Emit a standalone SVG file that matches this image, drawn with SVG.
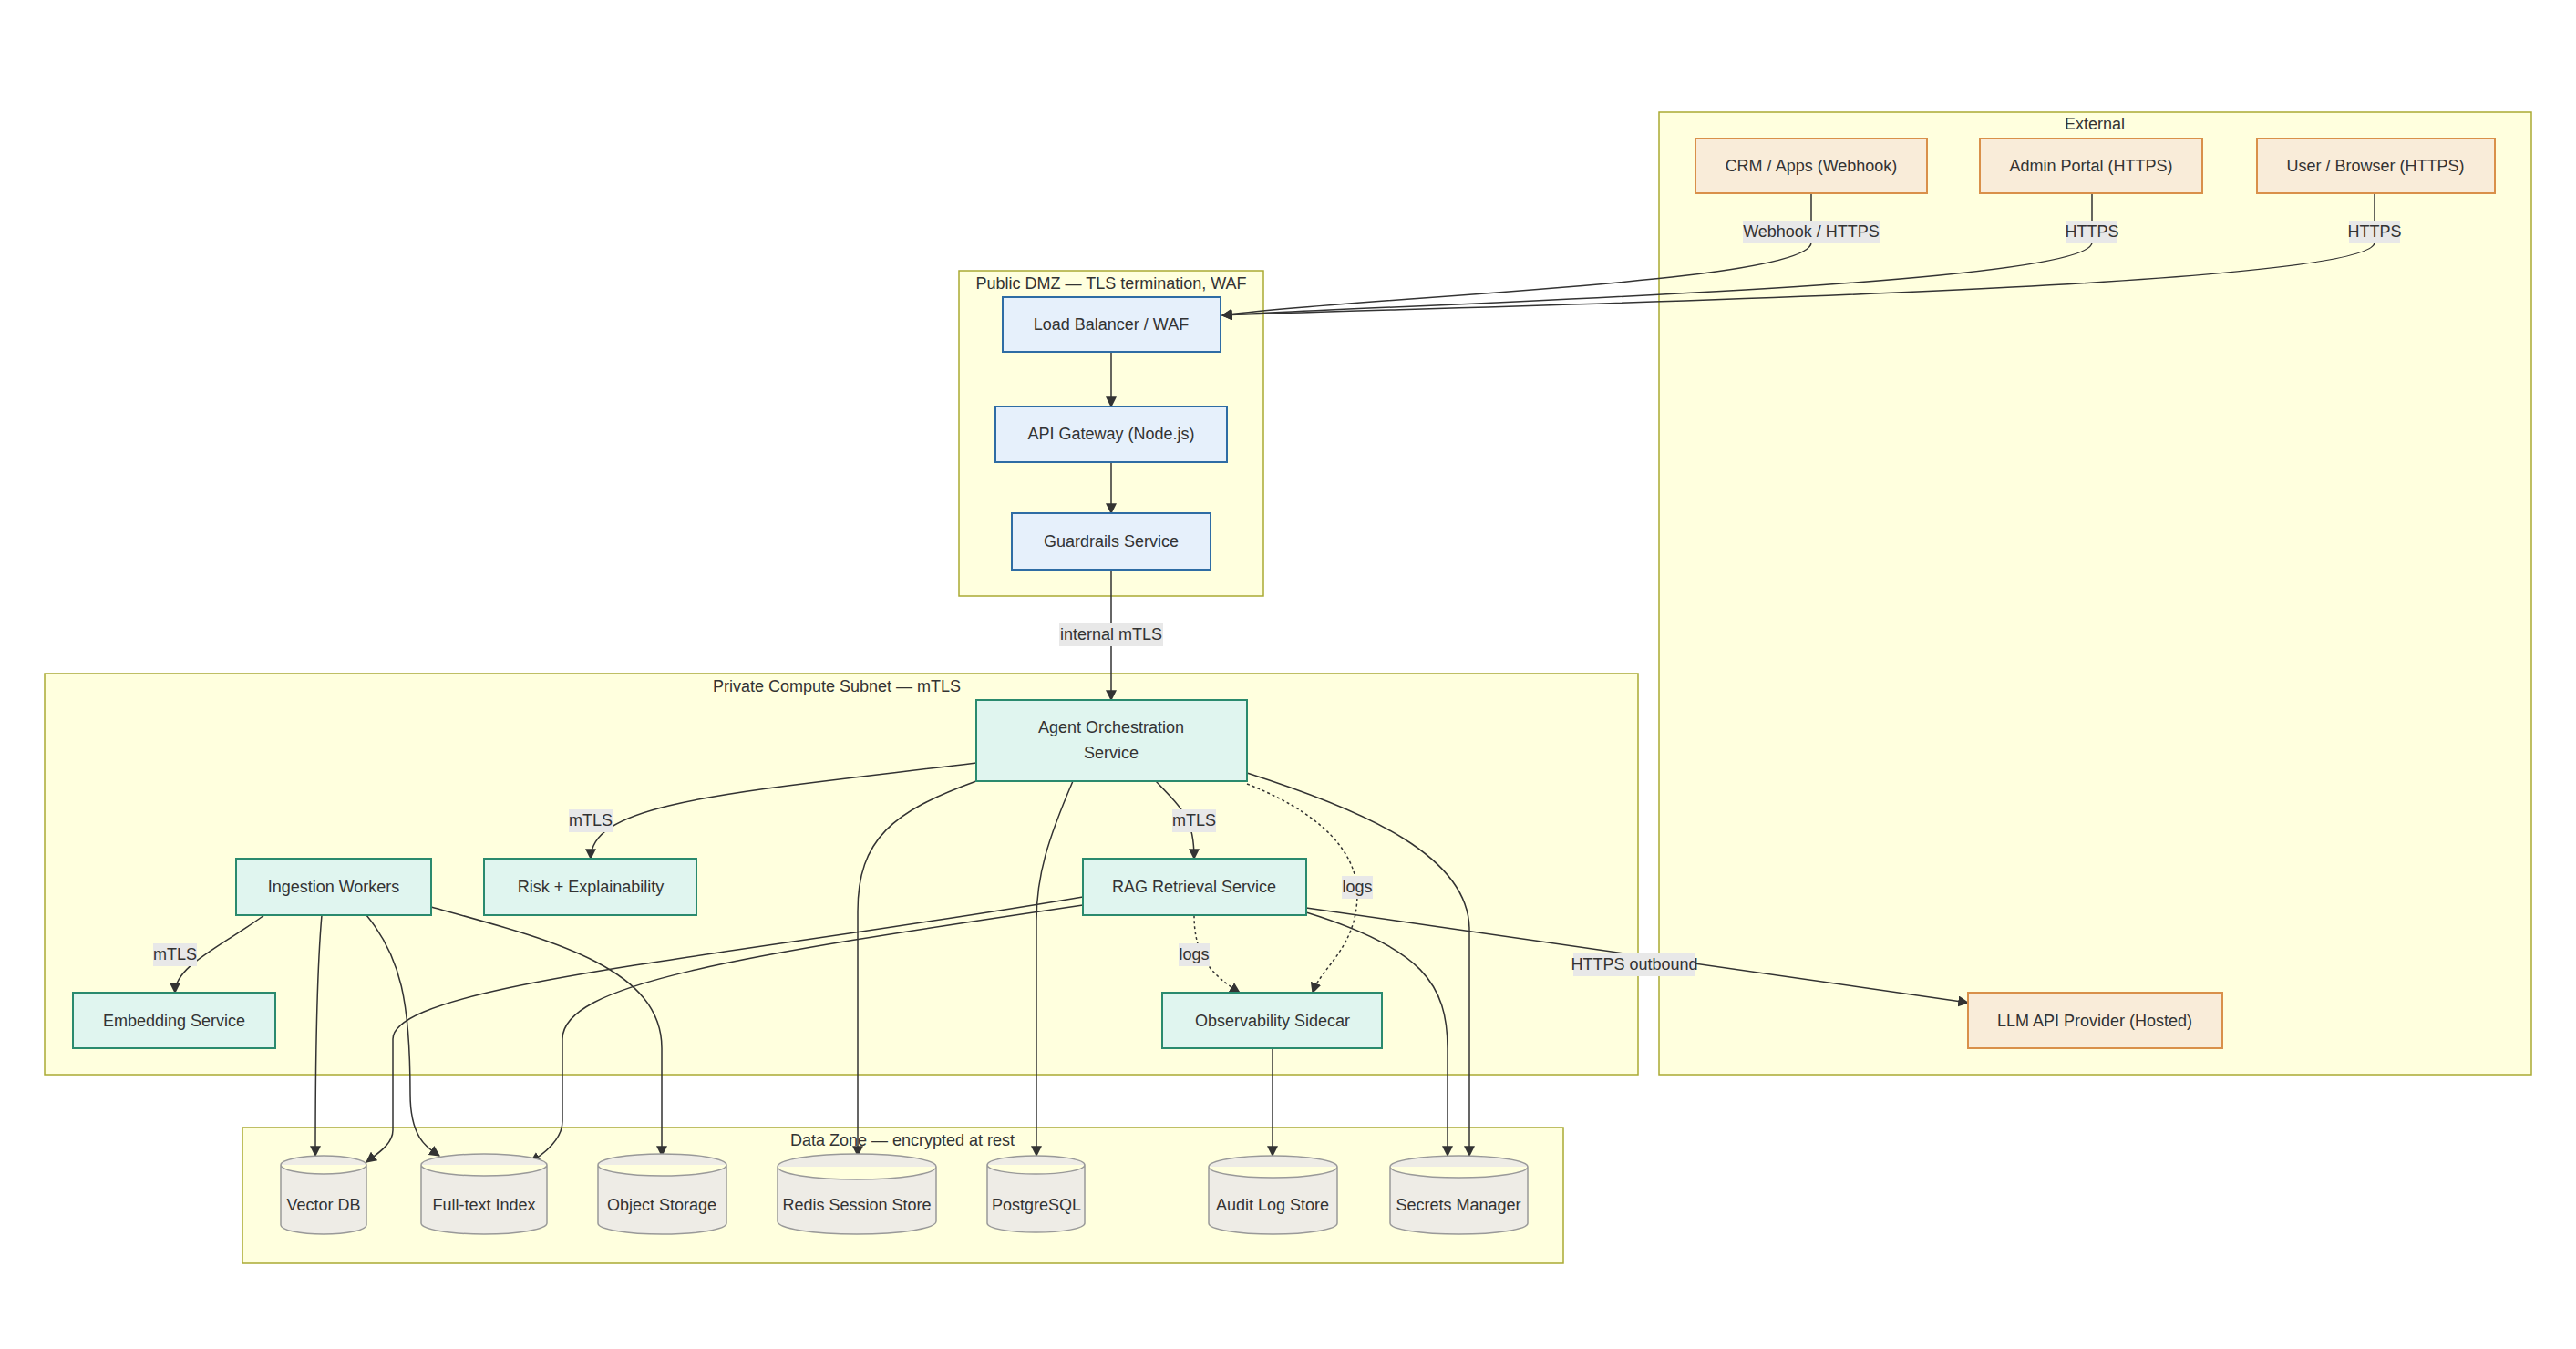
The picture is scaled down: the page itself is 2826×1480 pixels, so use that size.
<svg xmlns="http://www.w3.org/2000/svg" width="2826" height="1480" viewBox="0 0 2826 1480">
<style>
text{font-family:"Liberation Sans",Arial,sans-serif;font-size:18px;fill:#333;text-anchor:middle;dominant-baseline:central}
.cl{fill:#ffffde;stroke:#aaaa33;stroke-width:1.5}
.b{fill:#e6f0fb;stroke:#2e6ca4;stroke-width:2}
.g{fill:#e0f5ef;stroke:#2a8a6e;stroke-width:2}
.o{fill:#f9ecd9;stroke:#d9904a;stroke-width:2}
.cy{fill:#eeece6;stroke:#999;stroke-width:1.5}
.e{fill:none;stroke:#333;stroke-width:1.5;marker-end:url(#a)}
.d{stroke-dasharray:3 3}
.lb{fill:#e8e8e8}
</style>
<defs>
<marker id="a" viewBox="0 0 10 10" refX="9" refY="5" markerWidth="8" markerHeight="8" orient="auto"><path d="M0,0L10,5L0,10z" fill="#333"/></marker>
</defs>
<rect width="2826" height="1480" fill="#fff"/>
<g id="clusters">
<rect class="cl" x="1820" y="123" width="957" height="1056"/><text x="2298" y="136">External</text>
<rect class="cl" x="1052" y="297" width="334" height="357"/><text x="1219" y="311">Public DMZ — TLS termination, WAF</text>
<rect class="cl" x="49" y="739" width="1748" height="440"/><text x="918" y="753">Private Compute Subnet — mTLS</text>
<rect class="cl" x="266" y="1237" width="1449" height="149"/><text x="990" y="1251">Data Zone — encrypted at rest</text>
</g>
<g id="connectors">
<path class="e" d="M1987,212 L1987,266 C1987,310 1500,325 1341,346"/>
<path class="e" d="M2295,212 L2295,266 C2295,315 1500,335 1341,346"/>
<path class="e" d="M2605,212 L2605,266 C2605,320 1500,338 1341,346"/>
<path class="e" d="M1219,386 L1219,446"/>
<path class="e" d="M1219,507 L1219,563"/>
<path class="e" d="M1219,625 L1219,768"/>
<path class="e" d="M1071,837 C800,870 648,880 648,942"/>
<path class="e" d="M1268,857 C1300,890 1310,900 1310,942"/>
<path class="e d" d="M1368,860 C1470,900 1489,950 1489,980 C1489,1040 1450,1060 1440,1089"/>
<path class="e d" d="M1310,1004 C1310,1050 1330,1070 1360,1089"/>
<path class="e" d="M1071,857 C980,890 941,920 941,1000 L941,1268"/>
<path class="e" d="M1177,857 C1150,920 1137,960 1137,1010 L1137,1268"/>
<path class="e" d="M1368,848 C1500,890 1612,940 1612,1020 L1612,1268"/>
<path class="e" d="M290,1004 C240,1040 192,1060 192,1089"/>
<path class="e" d="M353,1004 C348,1060 346,1150 346,1268"/>
<path class="e" d="M402,1004 C440,1050 450,1100 450,1200 C450,1250 470,1260 482,1268"/>
<path class="e" d="M473,995 C600,1030 726,1060 726,1150 L726,1268"/>
<path class="e" d="M1188,984 C800,1050 431,1080 431,1140 L431,1240 C431,1255 415,1265 402,1275"/>
<path class="e" d="M1188,993 C800,1050 617,1080 617,1140 L617,1230 C617,1250 598,1265 582,1275"/>
<path class="e" d="M1433,1001 C1560,1040 1588,1080 1588,1150 L1588,1268"/>
<path class="e" d="M1433,996 L2159,1100"/>
<path class="e" d="M1396,1150 L1396,1268"/>
<g id="edge-labels">
<rect class="lb" x="1912" y="242" width="150" height="25"/><text x="1987" y="254">Webhook / HTTPS</text>
<rect class="lb" x="2267" y="242" width="56" height="25"/><text x="2295" y="254">HTTPS</text>
<rect class="lb" x="2577" y="242" width="56" height="25"/><text x="2605" y="254">HTTPS</text>
<rect class="lb" x="1162" y="684" width="114" height="25"/><text x="1219" y="696">internal mTLS</text>
<rect class="lb" x="624" y="888" width="48" height="25"/><text x="648" y="900">mTLS</text>
<rect class="lb" x="1286" y="888" width="48" height="25"/><text x="1310" y="900">mTLS</text>
<rect class="lb" x="1472" y="961" width="34" height="25"/><text x="1489" y="973">logs</text>
<rect class="lb" x="1293" y="1035" width="34" height="25"/><text x="1310" y="1047">logs</text>
<rect class="lb" x="168" y="1035" width="48" height="25"/><text x="192" y="1047">mTLS</text>
<rect class="lb" x="1726" y="1046" width="134" height="25"/><text x="1793" y="1058">HTTPS outbound</text>
</g>
</g>
<g id="crm"><rect class="o" x="1860" y="152" width="254" height="60"/><text x="1987" y="182">CRM / Apps (Webhook)</text></g>
<g id="admin"><rect class="o" x="2172" y="152" width="244" height="60"/><text x="2294" y="182">Admin Portal (HTTPS)</text></g>
<g id="user"><rect class="o" x="2476" y="152" width="261" height="60"/><text x="2606" y="182">User / Browser (HTTPS)</text></g>
<g id="lb"><rect class="b" x="1100" y="326" width="239" height="60"/><text x="1219" y="356">Load Balancer / WAF</text></g>
<g id="api"><rect class="b" x="1092" y="446" width="254" height="61"/><text x="1219" y="476">API Gateway (Node.js)</text></g>
<g id="guard"><rect class="b" x="1110" y="563" width="218" height="62"/><text x="1219" y="594">Guardrails Service</text></g>
<g id="agent"><rect class="g" x="1071" y="768" width="297" height="89"/><text x="1219" y="798">Agent Orchestration</text><text x="1219" y="826">Service</text></g>
<g id="ingest"><rect class="g" x="259" y="942" width="214" height="62"/><text x="366" y="973">Ingestion Workers</text></g>
<g id="risk"><rect class="g" x="531" y="942" width="233" height="62"/><text x="648" y="973">Risk + Explainability</text></g>
<g id="rag"><rect class="g" x="1188" y="942" width="245" height="62"/><text x="1310" y="973">RAG Retrieval Service</text></g>
<g id="embed"><rect class="g" x="80" y="1089" width="222" height="61"/><text x="191" y="1120">Embedding Service</text></g>
<g id="obs"><rect class="g" x="1275" y="1089" width="241" height="61"/><text x="1396" y="1120">Observability Sidecar</text></g>
<g id="llm"><rect class="o" x="2159" y="1089" width="279" height="61"/><text x="2298" y="1120">LLM API Provider (Hosted)</text></g>
<g id="vector"><path class="cy" d="M308,1278 a47,10 0 0 1 94,0 v66 a47,10 0 0 1 -94,0z M308,1278 a47,10 0 0 0 94,0"/><text x="355" y="1322">Vector DB</text></g>
<g id="fulltext"><path class="cy" d="M462,1278 a69,12 0 0 1 138,0 v64 a69,12 0 0 1 -138,0z M462,1278 a69,12 0 0 0 138,0"/><text x="531" y="1322">Full-text Index</text></g>
<g id="object"><path class="cy" d="M656,1278 a70,12 0 0 1 141,0 v64 a70,12 0 0 1 -141,0z M656,1278 a70,12 0 0 0 141,0"/><text x="726" y="1322">Object Storage</text></g>
<g id="redis"><path class="cy" d="M853,1280 a87,14 0 0 1 174,0 v60 a87,14 0 0 1 -174,0z M853,1280 a87,14 0 0 0 174,0"/><text x="940" y="1322">Redis Session Store</text></g>
<g id="postgres"><path class="cy" d="M1083,1278 a53,10 0 0 1 107,0 v64 a53,10 0 0 1 -107,0z M1083,1278 a53,10 0 0 0 107,0"/><text x="1137" y="1322">PostgreSQL</text></g>
<g id="audit"><path class="cy" d="M1326,1280 a70,12 0 0 1 141,0 v62 a70,12 0 0 1 -141,0z M1326,1280 a70,12 0 0 0 141,0"/><text x="1396" y="1322">Audit Log Store</text></g>
<g id="secrets"><path class="cy" d="M1525,1280 a75,12 0 0 1 151,0 v62 a75,12 0 0 1 -151,0z M1525,1280 a75,12 0 0 0 151,0"/><text x="1600" y="1322">Secrets Manager</text></g>
</svg>
